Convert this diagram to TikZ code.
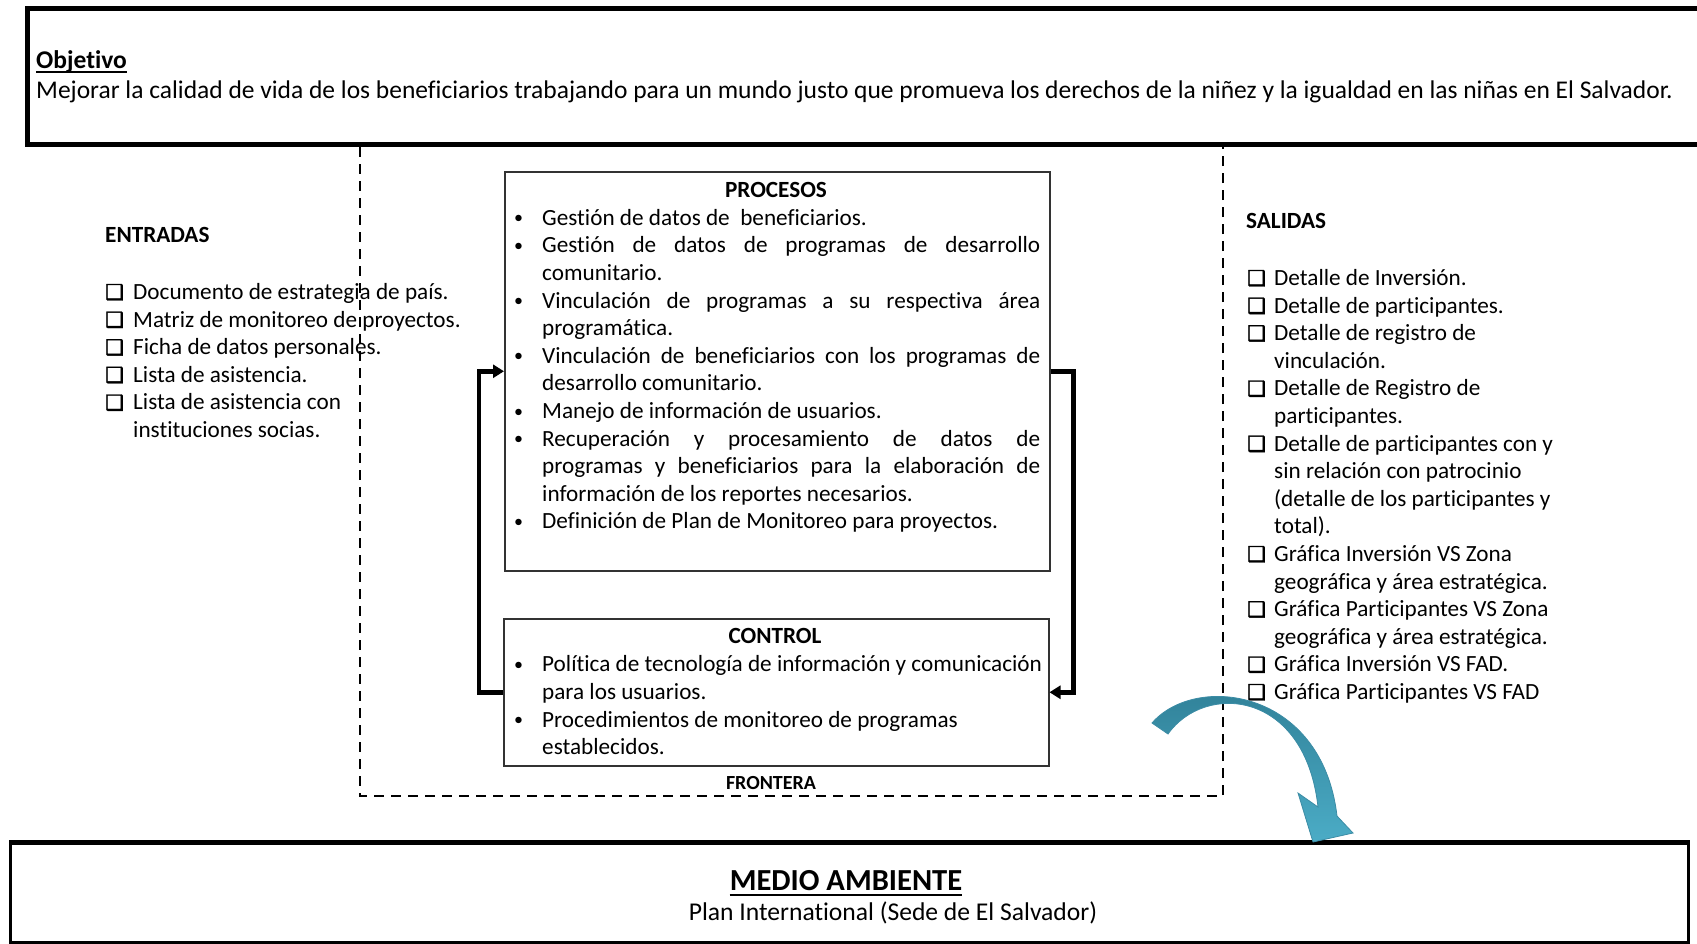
\documentclass[tikz,border=0pt]{standalone}
\usepackage{fontspec}
\setmainfont{Carlito}[Ligatures=NoCommon]
\newfontfamily\dejavu{DejaVu Sans}[FakeBold=1.8]
\usepackage{array}
\usetikzlibrary{arrows.meta}
\newcommand\bodysize{\fontsize{23.2}{27.6}\selectfont}
\newcommand\chk{{\dejavu\fontsize{21}{21}\selectfont ❑}}
\newcommand\bul{\raisebox{1.5pt}{\fontsize{18}{18}\selectfont\textbullet}}
\definecolor{tealdark}{RGB}{46,125,148}
\definecolor{teallight}{RGB}{75,172,198}
\definecolor{tealedge}{RGB}{60,140,165}
\tikzset{
  thickbox/.style={draw, line width=5pt, inner sep=0pt},
  stagebox/.style={draw=black!80, line width=1.5pt, inner sep=0pt},
  fbarrow/.style={line width=4.5pt, -{Triangle[length=11pt,width=13pt]}},
  boundary/.style={line width=2.2pt, dash pattern=on 10pt off 7pt},
  txt/.style={inner sep=0pt, font=\bodysize},
}
\begin{document}
\begin{tikzpicture}[x=1pt,y=-1pt]
\useasboundingbox (0,0) rectangle (1697,943);
% boundary (frontera)
\coordinate (bl) at (360,796);
\coordinate (br) at (1223,796);
\draw[boundary] (360,147) -- (bl) -- (br) -- (1223,147);
% objective box
\node[thickbox, anchor=north west, minimum width=1700pt, minimum height=136pt] (obj) at (25,6) {};
\node[txt, anchor=base west, font=\fontsize{25.5}{30}\selectfont\bfseries] (objt) at (36,68) {Objetivo};
\draw[line width=2pt] ([yshift=-4pt]objt.base west) -- ([yshift=-4pt]objt.base east);
\node[txt, anchor=base west, font=\fontsize{25.5}{30}\selectfont] (objd) at (36,98) {Mejorar la calidad de vida de los beneficiarios trabajando para un mundo justo que promueva los derechos de la niñez y la igualdad en las niñas en El Salvador.};
% entradas
\node[txt, anchor=base west, font=\bodysize\bfseries] (enth) at (105,242.5) {ENTRADAS};
\node[txt, anchor=north west] (entl) at (105,279.9) {%
\begin{tabular}{@{}p{28pt}@{}l@{}}
\chk & Documento de estrategia de país.\\
\chk & Matriz de monitoreo de proyectos.\\
\chk & Ficha de datos personales.\\
\chk & Lista de asistencia.\\
\chk & Lista de asistencia con\\
 & instituciones socias.
\end{tabular}};
% procesos
\node[stagebox, anchor=north west, minimum width=545pt, minimum height=399pt] (proc) at (504,171) {};
\node[txt, anchor=base, font=\bodysize\bfseries] (proch) at (776,197.5) {PROCESOS};
\node[txt, anchor=north west] (procl) at (514,205.8) {%
\begin{tabular}{@{}p{28pt}@{}p{498pt}@{}}
\bul & Gestión de datos de\ \ beneficiarios.\\
\bul & Gestión de datos de programas de desarrollo\linebreak comunitario.\\
\bul & Vinculación de programas a su respectiva área\linebreak programática.\\
\bul & Vinculación de beneficiarios con los programas de\linebreak desarrollo comunitario.\\
\bul & Manejo de información de usuarios.\\
\bul & Recuperación y procesamiento de datos de\linebreak programas y beneficiarios para la elaboración de\linebreak información de los reportes necesarios.\\
\bul & Definición de Plan de Monitoreo para proyectos.
\end{tabular}};
% control
\node[stagebox, anchor=north west, minimum width=545pt, minimum height=147pt] (ctrl) at (503,618) {};
\node[txt, anchor=base, font=\bodysize\bfseries] (ctrlh) at (775,643.5) {CONTROL};
\node[txt, anchor=north west] (ctrll) at (514,652.4) {%
\begin{tabular}{@{}p{28pt}@{}l@{}}
\bul & Política de tecnología de información y comunicación\\
 & para los usuarios.\\
\bul & Procedimientos de monitoreo de programas\\
 & establecidos.
\end{tabular}};
% feedback arrows
\draw[fbarrow] (ctrl.west) -- ++(-24,0) |- (proc.west);
\draw[fbarrow] (proc.east) -- ++(23,0) |- (ctrl.east);
\node[txt, anchor=base, font=\fontsize{20}{22}\selectfont\bfseries] (front) at (771,789) {FRONTERA};
% salidas
\node[txt, anchor=base west, font=\bodysize\bfseries] (salh) at (1246,228.5) {SALIDAS};
\node[txt, anchor=north west] (sall) at (1247,265.9) {%
\begin{tabular}{@{}p{27pt}@{}l@{}}
\chk & Detalle de Inversión.\\
\chk & Detalle de participantes.\\
\chk & Detalle de registro de\\
 & vinculación.\\
\chk & Detalle de Registro de\\
 & participantes.\\
\chk & Detalle de participantes con y\\
 & sin relación con patrocinio\\
 & (detalle de los participantes y\\
 & total).\\
\chk & Gráfica Inversión VS Zona\\
 & geográfica y área estratégica.\\
\chk & Gráfica Participantes VS Zona\\
 & geográfica y área estratégica.\\
\chk & Gráfica Inversión VS FAD.\\
\chk & Gráfica Participantes VS FAD
\end{tabular}};
% environment box
\node[draw, line width=3pt, inner sep=0pt, anchor=north west, minimum width=1678pt, minimum height=99pt] (env) at (9,842) {};
\draw[line width=5pt] (env.north west) -- (env.north east);
\node[txt, anchor=base, font=\fontsize{30.6}{36}\selectfont\bfseries] (envh) at (846,890) {MEDIO AMBIENTE};
\draw[line width=2.2pt] ([yshift=-5pt]envh.base west) -- ([yshift=-5pt]envh.base east);
\node[txt, anchor=base, font=\fontsize{25.6}{30}\selectfont] (envd) at (893,920) {Plan International (Sede de El Salvador)};
% curved arrow
\coordinate (tailo) at (1152,723);
\coordinate (taili) at (1168,734);
\coordinate (sho) at (1337,816);
\coordinate (shi) at (1318,807);
\coordinate (barbr) at (1353,833);
\coordinate (tip) at (1313,842);
\coordinate (barbl) at (1298,793);
\shade[top color=tealdark, bottom color=teallight, draw=tealedge, line width=0.8pt]
  (tailo) .. controls (1195,673) and (1322,688) .. (sho)
  -- (barbr) -- (tip) -- (barbl) -- (shi)
  .. controls (1305,690) and (1205,682) .. (taili) -- cycle;
\end{tikzpicture}
\end{document}
